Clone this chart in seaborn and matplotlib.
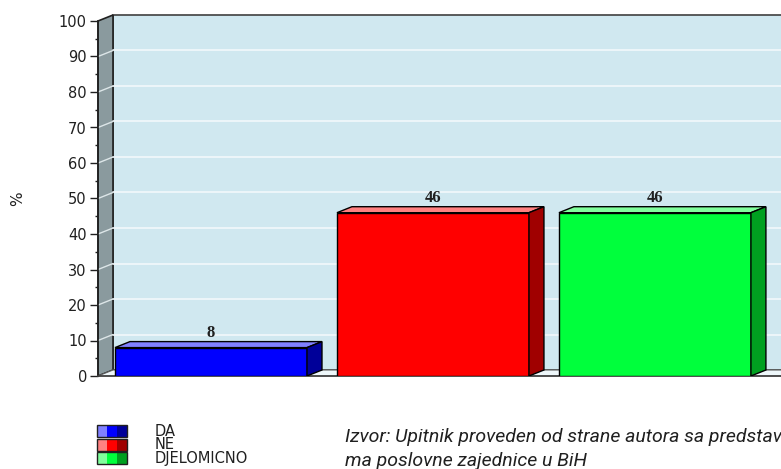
import numpy as np
import pandas as pd
import seaborn as sns
import matplotlib.pyplot as plt
from matplotlib.patches import Polygon, Rectangle

# Data
categories = ['DA', 'NE', 'DJELOMICNO']
values = [8, 46, 46]
front_colors = ['#0000FF', '#FF0000', '#00FF3C']
top_colors = ['#8080FF', '#FF8080', '#80FF9C']
side_colors = ['#000099', '#A00000', '#00A020']
yticks = list(range(0, 101, 10))
caption = ['Izvor: Upitnik proveden od strane autora sa predstavnici-',
           'ma poslovne zajednice u BiH']

sns.set_style('white')
plt.rcParams['font.family'] = ['DejaVu Sans']

W, H = 781, 469
fig = plt.figure(figsize=(W / 100, H / 100), dpi=100)
ax = fig.add_axes([98 / W, 93 / H, (W - 98) / W, 355 / H])

df = pd.DataFrame({'cat': categories, 'val': values})
sns.barplot(data=df, x='cat', y='val', hue='cat', palette=front_colors, saturation=1,
            width=0.865, edgecolor='black', linewidth=1, legend=False,
            ax=ax, zorder=5)

xmin, xmax = -0.509, 2.568
ax.set_xlim(xmin, xmax)
ax.set_ylim(0, 100)

# 3d depth (15 px right, 6 px up) in data units
dx = 15 / (W - 98) * (xmax - xmin)
dy = 6 / 355 * 100

# back wall
ax.add_patch(Polygon([(xmin + dx, dy), (xmin + dx, 100 + dy), (xmax + dx, 100 + dy), (xmax + dx, dy)],
                     closed=True, facecolor='#D0E8F0', edgecolor='#404040', lw=1.2,
                     zorder=0, clip_on=False))
# left wall
ax.add_patch(Polygon([(xmin, 0), (xmin + dx, dy), (xmin + dx, 100 + dy), (xmin, 100)],
                     closed=True, facecolor='#8A9A9E', edgecolor='#202020', lw=1.2,
                     zorder=1, clip_on=False))
# floor
ax.add_patch(Polygon([(xmin, 0), (xmin + dx, dy), (xmax + dx, dy), (xmax, 0)],
                     closed=True, facecolor='#EEF7FA', edgecolor='#606060', lw=0.8,
                     zorder=1, clip_on=False))
# grid lines on the walls
for v in yticks[1:-1]:
    ax.plot([xmin + dx, xmax + dx], [v + dy, v + dy], color='#F2F8FB', lw=1.2, zorder=2)
    ax.plot([xmin, xmin + dx], [v, v + dy], color='#DDE6E8', lw=1, zorder=2)

# bar tops and sides
for i, p in enumerate(ax.patches[:len(values)]):
    x0 = p.get_x()
    x1 = x0 + p.get_width()
    h = p.get_height()
    ax.add_patch(Polygon([(x0, h), (x0 + dx, h + dy), (x1 + dx, h + dy), (x1, h)],
                         closed=True, facecolor=top_colors[i], edgecolor='black', lw=1, zorder=6))
    ax.add_patch(Polygon([(x1, 0), (x1 + dx, dy), (x1 + dx, h + dy), (x1, h)],
                         closed=True, facecolor=side_colors[i], edgecolor='black', lw=1, zorder=6))
    ax.text((x0 + x1) / 2, h + dy + 0.3, str(values[i]), ha='center', va='bottom',
            fontsize=12, fontweight='bold', family='Liberation Serif', color='#202020', zorder=7)

ax.set_xticks([])
ax.set_xlabel('')
ax.set_yticks(yticks)
ax.set_yticks(range(5, 100, 10), minor=True)
ax.tick_params(axis='y', which='major', length=6, width=1, direction='out', labelsize=10.5,
               colors='#202020', left=True, pad=2)
ax.tick_params(axis='y', which='minor', length=4, width=1, direction='inout', left=True,
               colors='#202020')
ax.set_ylabel('%', fontsize=11, labelpad=24, color='#202020')
for s in ['top', 'right']:
    ax.spines[s].set_visible(False)
ax.spines['left'].set_color('#202020')
ax.spines['left'].set_linewidth(1.2)
ax.spines['bottom'].set_color('#404040')
ax.spines['bottom'].set_linewidth(1.2)
ax.patch.set_alpha(0)

# legend (drawn by hand, small gradient boxes)
for i, cat in enumerate(categories):
    ytop = 425 + i * 13.5
    yb = 1 - (ytop + 12) / H
    for j, c in enumerate([top_colors[i], front_colors[i], side_colors[i]]):
        fig.add_artist(Rectangle(((97 + j * 10) / W, yb), 10 / W, 12 / H,
                                 transform=fig.transFigure, facecolor=c, edgecolor='none'))
    fig.add_artist(Rectangle((97 / W, yb), 30 / W, 12 / H, transform=fig.transFigure,
                             facecolor='none', edgecolor='#202020', lw=1))
    fig.text(155 / W, 1 - (ytop + 6) / H, cat, ha='left', va='center', fontsize=10.5, color='#202020')

fig.text(345 / W, 1 - 437 / H, caption[0], ha='left', va='center', fontsize=14,
         style='italic', family=['Roboto', 'DejaVu Sans'], color='#202020')
fig.text(345 / W, 1 - 461 / H, caption[1], ha='left', va='center', fontsize=14,
         style='italic', family=['Roboto', 'DejaVu Sans'], color='#202020')

fig.savefig('out.png', dpi=100)
